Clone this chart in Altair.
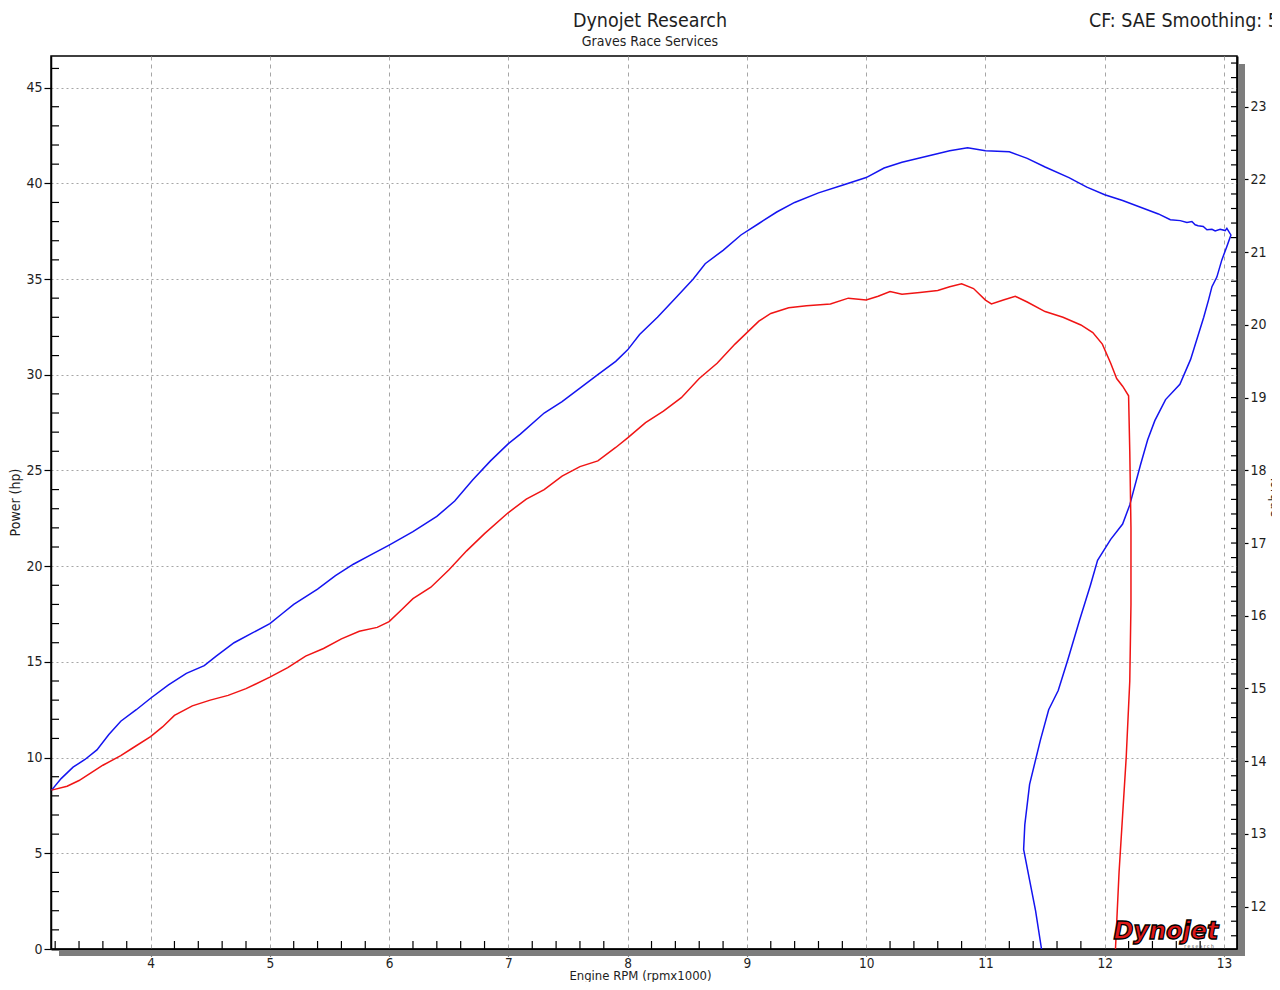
import altair as alt
import pandas as pd

# ---------------- data ----------------
blue_rpm = [3.17, 3.25, 3.35, 3.45, 3.55, 3.65, 3.75, 3.88, 4.0, 4.15, 4.3, 4.45, 4.55, 4.7, 4.85,
            5.0, 5.1, 5.2, 5.4, 5.55, 5.7, 5.85, 6.0, 6.2, 6.4, 6.55, 6.7, 6.85, 7.0, 7.1, 7.3,
            7.45, 7.6, 7.75, 7.9, 8.0, 8.1, 8.25, 8.4, 8.55, 8.65, 8.8, 8.95, 9.1, 9.25, 9.4,
            9.6, 9.8, 10.0, 10.15, 10.3, 10.5, 10.7, 10.85, 11.0, 11.2, 11.35, 11.5, 11.7, 11.85,
            12.0, 12.15, 12.3, 12.45, 12.55, 12.633, 12.689, 12.731, 12.758, 12.783, 12.826,
            12.857, 12.899, 12.926, 12.968, 13.01, 13.024, 13.058, 13.024, 12.982, 12.94, 12.899,
            12.87, 12.83, 12.72, 12.63, 12.51, 12.42, 12.36, 12.3, 12.21, 12.15, 12.05, 11.94,
            11.88, 11.79, 11.69, 11.61, 11.53, 11.46, 11.37, 11.33, 11.32, 11.37, 11.42, 11.47]
blue_hp = [8.3, 8.9, 9.5, 9.9, 10.4, 11.2, 11.9, 12.5, 13.1, 13.8, 14.4, 14.8, 15.3, 16.0, 16.5,
           17.0, 17.5, 18.0, 18.8, 19.5, 20.1, 20.6, 21.1, 21.8, 22.6, 23.4, 24.5, 25.5, 26.4, 26.9,
           28.0, 28.6, 29.3, 30.0, 30.7, 31.3, 32.1, 33.0, 34.0, 35.0, 35.8, 36.5, 37.3, 37.9, 38.5,
           39.0, 39.5, 39.9, 40.3, 40.8, 41.1, 41.4, 41.7, 41.85, 41.7, 41.65, 41.3, 40.85, 40.3,
           39.8, 39.4, 39.1, 38.75, 38.4, 38.1, 38.05, 37.95, 38.0, 37.83, 37.78, 37.74, 37.57,
           37.6, 37.51, 37.6, 37.53, 37.65, 37.3, 36.7, 36.0, 35.1, 34.6, 33.9, 33.0, 30.8, 29.5,
           28.7, 27.6, 26.6, 25.3, 23.2, 22.2, 21.4, 20.3, 19.0, 17.2, 15.1, 13.5, 12.5, 10.9, 8.6,
           6.5, 5.2, 3.6, 2.0, 0.0]

red_rpm = [3.17, 3.3, 3.4, 3.5, 3.6, 3.75, 3.85, 4.0, 4.1, 4.2, 4.35, 4.5, 4.65, 4.8, 5.0, 5.15,
           5.3, 5.45, 5.6, 5.75, 5.9, 6.0, 6.1, 6.2, 6.35, 6.5, 6.65, 6.8, 7.0, 7.15, 7.3, 7.45,
           7.6, 7.75, 7.9, 8.0, 8.15, 8.3, 8.45, 8.6, 8.75, 8.9, 9.0, 9.1, 9.2, 9.35, 9.5, 9.7,
           9.85, 10.0, 10.1, 10.2, 10.3, 10.45, 10.6, 10.7, 10.8, 10.9, 11.0, 11.05, 11.15, 11.25,
           11.35, 11.5, 11.65, 11.8, 11.9, 11.98, 12.05, 12.1, 12.15, 12.2, 12.21, 12.22, 12.22,
           12.21, 12.18, 12.15, 12.12, 12.09]
red_hp = [8.3, 8.5, 8.8, 9.2, 9.6, 10.1, 10.5, 11.1, 11.6, 12.2, 12.7, 13.0, 13.25, 13.6, 14.2,
          14.7, 15.3, 15.7, 16.2, 16.6, 16.8, 17.1, 17.7, 18.3, 18.9, 19.8, 20.8, 21.7, 22.8, 23.5,
          24.0, 24.7, 25.2, 25.5, 26.2, 26.7, 27.5, 28.1, 28.8, 29.8, 30.6, 31.6, 32.2, 32.8, 33.2,
          33.5, 33.6, 33.7, 34.0, 33.9, 34.1, 34.35, 34.2, 34.3, 34.4, 34.6, 34.75, 34.5, 33.9,
          33.7, 33.9, 34.1, 33.8, 33.3, 33.0, 32.6, 32.2, 31.6, 30.6, 29.8, 29.4, 28.9, 26.0, 22.0,
          18.0, 14.0, 10.0, 7.0, 4.0, 0.0]

x_ticks = [4, 5, 6, 7, 8, 9, 10, 11, 12, 13]
x_minor = [round(3.2 + 0.2 * i, 1) for i in range(50) if (i + 1) % 5 != 0]
y_ticks = [0, 5, 10, 15, 20, 25, 30, 35, 40, 45]
y_minor = [i for i in range(1, 47) if i % 5 != 0]
t_ticks = [12, 13, 14, 15, 16, 17, 18, 19, 20, 21, 22, 23]
t_minor = [round(11.6 + 0.2 * i, 1) for i in range(61)]

title_main = "Dynojet Research"
title_sub = "Graves Race Services"
title_right = "CF: SAE Smoothing: 5"
x_title = "Engine RPM (rpmx1000)"
y_title = "Power (hp)"
t_title = "Torque"
logo_text = "Dynojet"
logo_small = "r e s e a r c h"

X_DOMAIN = [3.165, 13.109]
Y_DOMAIN = [0, 46.65]
T_DOMAIN = [11.418, 23.697]

W, H = 1186, 893
FONT = "DejaVu Sans Condensed"
INK = "#1e1e1e"

# ---------------- build ----------------
rows = []
for i, (r, v) in enumerate(zip(blue_rpm, blue_hp)):
    rows.append({"series": "blue", "rpm": r, "val": v, "idx": i})
for i, (r, v) in enumerate(zip(red_rpm, red_hp)):
    rows.append({"series": "red", "rpm": r, "val": v, "idx": i})
df = pd.DataFrame(rows)

xs = alt.Scale(domain=X_DOMAIN, nice=False, zero=False)
ys = alt.Scale(domain=Y_DOMAIN, nice=False, zero=False)
ts = alt.Scale(domain=T_DOMAIN, nice=False, zero=False)

one = pd.DataFrame({"a": [0]})

x_axis = alt.Axis(values=x_ticks, tickSize=7, tickColor="black", tickWidth=1.2,
                  labelPadding=0, labelFontSize=13.5, labelFont=FONT, labelColor=INK,
                  domainColor="black", domainWidth=2,
                  grid=True, gridDash=[4, 4], gridColor="#a6a6a6", gridWidth=1,
                  title=x_title, titleFont=FONT, titleFontSize=13, titleFontWeight="normal",
                  titleColor=INK, titleX=589, titleY=33, titleBaseline="bottom",
                  labelFlush=False)

y_axis = alt.Axis(values=y_ticks, tickSize=7, tickColor="black", tickWidth=1.2,
                  labelPadding=2, labelFontSize=14, labelFont=FONT, labelColor=INK,
                  domainColor="black", domainWidth=1.5,
                  grid=True, gridDash=[2, 3], gridColor="#a6a6a6", gridWidth=1,
                  title=y_title, titleFont=FONT, titleFontSize=14, titleFontWeight="normal",
                  titleColor=INK, titleX=-36, titleY=446, titleAngle=270,
                  titleBaseline="middle", titleAlign="center", labelFlush=False)

t_axis = alt.Axis(orient="right", values=t_ticks, tickSize=11, tickColor="black", tickWidth=1.2,
                  labelPadding=2, labelFontSize=14, labelFont=FONT, labelColor=INK,
                  domainColor="black", domainWidth=2, grid=False,
                  title=t_title, titleFont=FONT, titleFontSize=14, titleFontWeight="normal",
                  titleColor=INK, titleX=37, titleY=440, titleAngle=90,
                  titleBaseline="middle", titleAlign="center", labelFlush=False)

shadow_bottom = alt.Chart(one).mark_rect(color="#7d7d7d").encode(
    x=alt.value(8), x2=alt.value(W + 8), y=alt.value(H + 1), y2=alt.value(H + 7))
shadow_right = alt.Chart(one).mark_rect(color="#7d7d7d").encode(
    x=alt.value(W + 1), x2=alt.value(W + 8), y=alt.value(8), y2=alt.value(H + 7))

lines = alt.Chart(df).mark_line(strokeWidth=1.5).encode(
    x=alt.X("rpm:Q", scale=xs, axis=x_axis),
    y=alt.Y("val:Q", scale=ys, axis=y_axis),
    color=alt.Color("series:N", scale=alt.Scale(domain=["blue", "red"],
                                                range=["#1414f0", "#f01414"]), legend=None),
    order=alt.Order("idx:Q"),
)

minor_y = alt.Chart(pd.DataFrame({"v": y_minor})).mark_rule(color="black", strokeWidth=1.2).encode(
    y=alt.Y("v:Q", scale=ys, axis=None), x=alt.value(0), x2=alt.value(8))
minor_x = alt.Chart(pd.DataFrame({"v": x_minor})).mark_rule(color="black", strokeWidth=1.2).encode(
    x=alt.X("v:Q", scale=xs, axis=x_axis), y=alt.value(H - 8), y2=alt.value(H))

minor_t = alt.Chart(pd.DataFrame({"v": t_minor})).mark_rule(
    color="black", strokeWidth=1.2).encode(
    y=alt.Y("v:Q", scale=ts, axis=t_axis), x=alt.value(W - 6), x2=alt.value(W))

txt_main = alt.Chart(one).mark_text(font=FONT, fontSize=19.5, color=INK, baseline="middle",
                                    align="center").encode(
    x=alt.value(599), y=alt.value(-35), text=alt.value(title_main))
txt_sub = alt.Chart(one).mark_text(font=FONT, fontSize=14, color=INK, baseline="middle",
                                   align="center").encode(
    x=alt.value(599), y=alt.value(-14), text=alt.value(title_sub))
txt_right = alt.Chart(one).mark_text(font=FONT, fontSize=19.5, color=INK, baseline="middle",
                                     align="left").encode(
    x=alt.value(1038), y=alt.value(-35), text=alt.value(title_right))

logo = alt.Chart(one).mark_text(font="DejaVu Sans", fontSize=24, fontWeight="bold",
                                fontStyle="italic", color="#e01818", stroke="black",
                                strokeWidth=1.3, baseline="middle", align="center").encode(
    x=alt.value(1115), y=alt.value(876), text=alt.value(logo_text))
logo_sub = alt.Chart(one).mark_text(font=FONT, fontSize=5, color="#444444",
                                    baseline="middle", align="center").encode(
    x=alt.value(1148), y=alt.value(890), text=alt.value(logo_small))

chart = alt.layer(shadow_bottom, shadow_right, lines, minor_y, minor_x, minor_t,
                  txt_main, txt_sub, txt_right, logo, logo_sub
                  ).resolve_scale(y="independent").properties(
    width=W, height=H,
    autosize=alt.AutoSizeParams(type="none"),
    padding={"left": 43, "top": 48, "right": 35, "bottom": 33},
    background="white",
).configure_view(stroke="black", strokeWidth=1.5)

chart.save("out.html", embed_options={"renderer": "svg", "actions": False})
